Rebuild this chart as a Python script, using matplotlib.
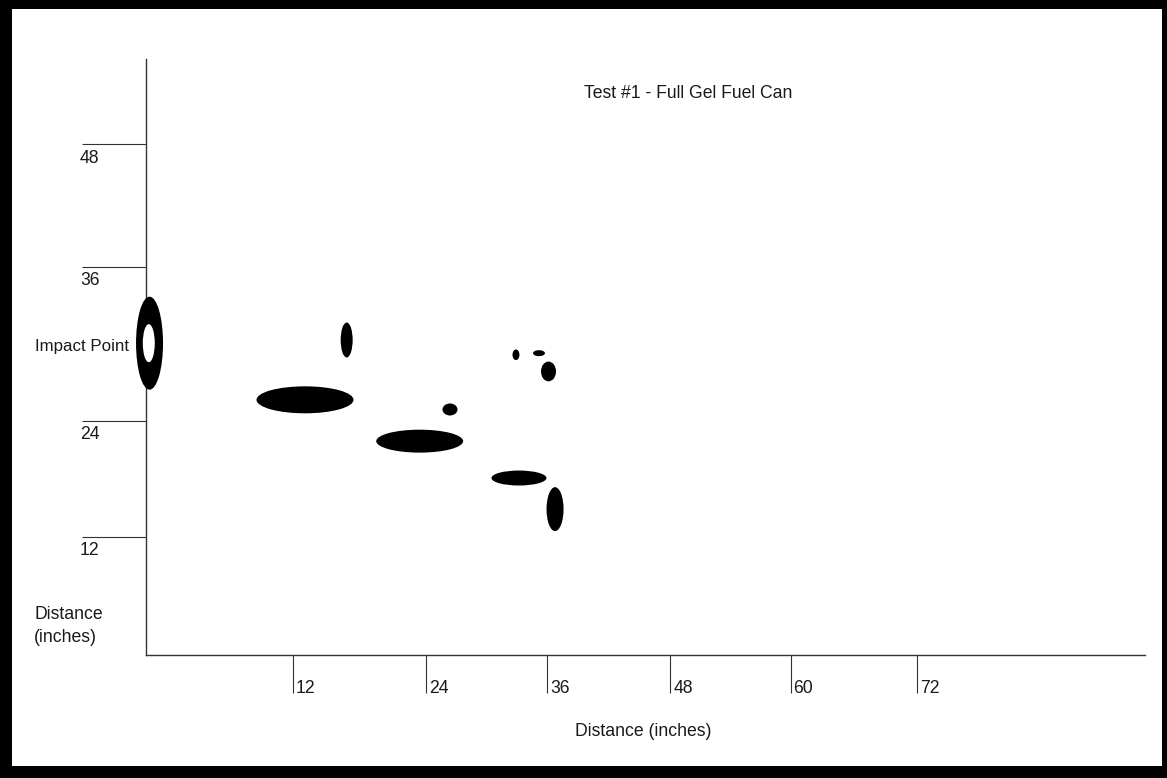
import matplotlib
matplotlib.use('Agg')
import matplotlib.pyplot as plt
from matplotlib.patches import Ellipse, Rectangle

plt.rcParams['font.family'] = ['Liberation Sans', 'DejaVu Sans']

# tick positions (inches, as drawn on the sketch) and their labels
x_tick_pos = [13.7, 26.15, 37.45, 48.95, 60.2, 72.0]
x_tick_labels = ['12', '24', '36', '48', '60', '72']
y_tick_pos = [11.1, 22.0, 36.5, 48.0]
y_tick_labels = ['12', '24', '36', '48']

# splatter marks: centre x, centre y, width, height (inches)
splat_x = [18.74, 14.85, 28.39, 25.56, 34.55, 36.70, 37.59, 34.83, 38.20]
splat_y = [29.60, 23.97, 23.06, 20.08, 28.21, 28.36, 26.64, 16.61, 13.68]
splat_w = [1.12, 9.06, 1.40, 8.12, 0.65, 1.12, 1.40, 5.14, 1.59]
splat_h = [3.29, 2.54, 1.13, 2.16, 1.00, 0.56, 1.86, 1.41, 4.14]

# impact point ring
impact_x, impact_y = 0.33, 29.3
ring_outer = (2.52, 8.75)
ring_inner = (1.12, 3.58)

W, H = 1167, 778
fig = plt.figure(figsize=(W / 100, H / 100), dpi=100)
fig.patch.set_facecolor('black')
# white sheet inside the black frame
fig.add_artist(Rectangle((12 / W, 12 / H), (1162 - 12) / W, (769 - 12) / H,
                         transform=fig.transFigure, facecolor='white',
                         edgecolor='none', zorder=0))

x0, x1 = 146, 1145
y0, y1 = 654.5, 59
ax = fig.add_axes([x0 / W, (H - y0) / H, (x1 - x0) / W, (y0 - y1) / H])
ax.set_facecolor('none')
ax.set_xlim(0, (x1 - x0) / 10.708)
ax.set_ylim(0, (y0 - y1) / 10.625)

for s in ['top', 'right']:
    ax.spines[s].set_visible(False)
for s in ['left', 'bottom']:
    ax.spines[s].set_color('#333333')
    ax.spines[s].set_linewidth(1.0)
    ax.spines[s].set_zorder(1)

ax.set_xticks(x_tick_pos)
ax.set_yticks(y_tick_pos)
ax.set_xticklabels([])
ax.set_yticklabels([])
ax.tick_params(axis='x', direction='out', length=27, width=0.8, color='#333333')
ax.tick_params(axis='y', direction='out', length=46, width=0.8, color='#333333')

fs = 12.7
tc = '#1a1a1a'
for p, lab in zip(x_tick_pos, x_tick_labels):
    ax.annotate(lab, (p, 0), xycoords='data', xytext=(3, -34),
                textcoords='offset pixels', ha='left', va='center',
                fontsize=fs, color=tc, annotation_clip=False)
for p, lab in zip(y_tick_pos, y_tick_labels):
    ax.annotate(lab, (0, p), xycoords='data', xytext=(-66, -14),
                textcoords='offset pixels', ha='left', va='center',
                fontsize=fs, color=tc, annotation_clip=False)

# marks
for x, y, w, h in zip(splat_x, splat_y, splat_w, splat_h):
    ax.add_patch(Ellipse((x, y), w, h, facecolor='black', edgecolor='none',
                         zorder=3))
ax.add_patch(Ellipse((impact_x, impact_y), *ring_outer, facecolor='black',
                     edgecolor='none', zorder=3, clip_on=False))
ax.add_patch(Ellipse((impact_x - 0.07, impact_y), *ring_inner, facecolor='white',
                     edgecolor='none', zorder=4, clip_on=False))

ax.annotate('Impact Point', (0, impact_y), xycoords='data', xytext=(-17, -3),
            textcoords='offset pixels', ha='right', va='center',
            fontsize=12.2, color=tc, annotation_clip=False)

fig.text(643 / W, 1 - 732 / H, 'Distance (inches)', ha='center', va='center',
         fontsize=fs, color=tc)
fig.text(34 / W, 1 - 626 / H, 'Distance\n(inches)', ha='left', va='center',
         fontsize=fs, color=tc, linespacing=1.4)
fig.text(688 / W, 1 - 93 / H, 'Test #1 - Full Gel Fuel Can', ha='center',
         va='center', fontsize=fs, color=tc)

fig.savefig('out.png', dpi=100, facecolor=fig.get_facecolor())
